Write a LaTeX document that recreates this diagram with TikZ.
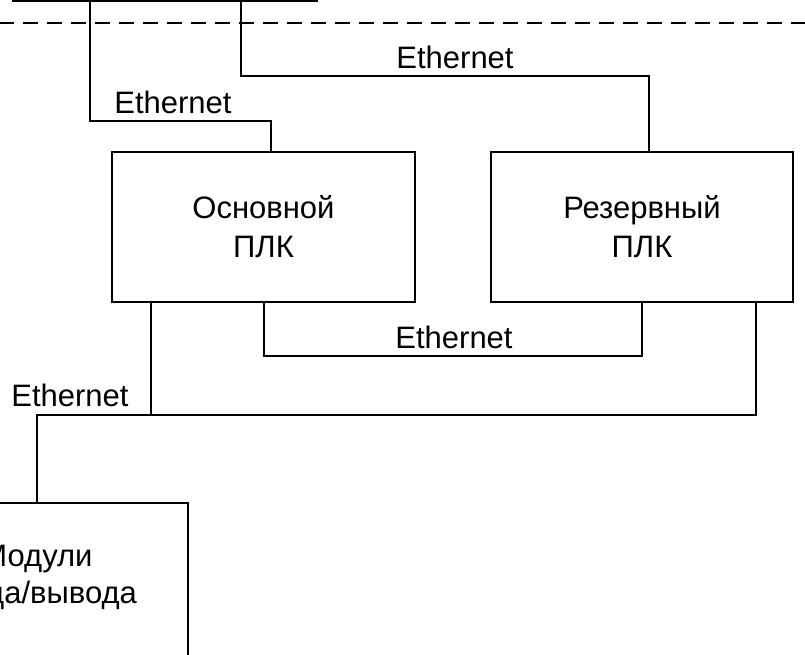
\documentclass[tikz,border=0pt]{standalone}
\usepackage{fontspec}
\setmainfont{Liberation Sans}
\begin{document}
\begin{tikzpicture}[x=1pt,y=-1pt,line width=1.7pt,
  box/.style={draw, rectangle, minimum width=303pt, minimum height=150pt, align=center,
    font=\fontsize{31}{39}\selectfont, inner sep=0pt, line width=1.7pt},
  lbl/.style={font=\fontsize{31}{37}\selectfont, inner sep=0pt},
  wire/.style={line width=1.7pt},
  sep/.style={line width=1.7pt, dash pattern=on 15pt off 9pt}]
\useasboundingbox (0,0) rectangle (805,654);
% nodes
\node[box, minimum width=304pt] (top) at (165,-74) {};
\node[box] (main) at (263.5,227) {Основной\\ПЛК};
\node[box, minimum width=302pt] (res) at (642,227) {Резервный\\ПЛК};
\node[box, minimum height=170pt] (io) at (36.5,588) {};
\node[lbl, align=center, font=\fontsize{31}{37}\selectfont] (iotext) at (37,577) {Модули\\ввода/вывода};
% labels
\node[lbl] (e1) at (455,57) {Ethernet};
\node[lbl] (e2) at (173,102) {Ethernet};
\node[lbl] (e3) at (454,337) {Ethernet};
\node[lbl] (e4) at (70,395) {Ethernet};
% dashed separator
\coordinate (dl) at (-0.7,23);
\coordinate (dr) at (805,23);
\draw[sep] (dl) -- (dr);
% connector corners
\coordinate (k1) at (90,121);
\coordinate (k2) at (271,121);
\coordinate (k3) at (241,76);
\coordinate (k4) at (649,76);
\coordinate (k5) at (264,356);
\coordinate (k6) at (642,356);
\coordinate (k7) at (37,415);
\coordinate (k8) at (756,415);
\coordinate (k9) at (151,415);
% connectors
\draw[wire] (top.south -| k1) -- (k1) -- (k2) -- (k2 |- main.north);
\draw[wire] (top.south -| k3) -- (k3) -- (k4) -- (k4 |- res.north);
\draw[wire] (main.south -| k5) -- (k5) -- (k6) -- (k6 |- res.south);
\draw[wire] (io.north -| k7) -- (k7) -- (k8) -- (k8 |- res.south);
\draw[wire] (main.south -| k9) -- (k9);
\end{tikzpicture}
\end{document}
